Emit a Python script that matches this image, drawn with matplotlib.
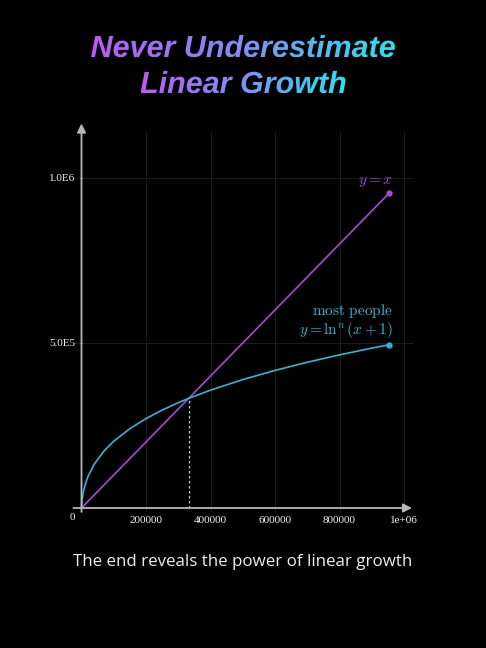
import numpy as np
import matplotlib
matplotlib.use("Agg")
import matplotlib.pyplot as plt
from matplotlib.textpath import TextPath
from matplotlib.font_manager import FontProperties
from matplotlib.patches import PathPatch
from matplotlib.colors import LinearSegmentedColormap
import matplotlib.transforms as mtransforms

# data
linear_x = [0, 955000]
linear_y = [0, 955000]

log_x = [0, 50, 200, 1000, 2000, 5000, 10000, 20000, 40000, 70000, 100000,
         150000, 200000, 250000, 300000, 332000, 400000, 500000, 600000,
         700000, 800000, 900000, 955000]
log_y = [0, 938, 4194, 15740, 25379, 44827, 66284, 95268, 133612, 172823, 202270,
         240488, 270951, 296640, 319035, 332075, 357115, 389120, 416880,
         441610, 463960, 484430, 494980]

cross_x = 332000
cross_y = 332000

xticks = [200000, 400000, 600000, 800000, 1000000]
xtick_labels = ["200000", "400000", "600000", "800000", "1e+06"]
yticks = [500000, 1000000]
ytick_labels = ["5.0E5", "1.0E6"]

title_lines = ["Never Underestimate", "Linear Growth"]
subtitle = "The end reveals the power of linear growth"

PURPLE = "#a848d8"
CYAN = "#2cb8d4"
W, H = 486, 648

plt.rcParams["mathtext.fontset"] = "cm"

fig = plt.figure(figsize=(W / 100, H / 100), dpi=100, facecolor="black")

# layout in pixels: x=0 at 81.5px, y=0 at 508px from top
x0px, y0px = 81.5, 508
sx, sy = 64.5 / 200000, 165 / 500000
xmin, xmax = -25000, 1030000
ymin, ymax = -12000, 1140000
left = (x0px + xmin * sx) / W
right = (x0px + xmax * sx) / W
bottom = 1 - (y0px - ymin * sy) / H
top = 1 - (y0px - ymax * sy) / H
ax = fig.add_axes([left, bottom, right - left, top - bottom])
ax.set_facecolor("black")
ax.set_xlim(xmin, xmax)
ax.set_ylim(ymin, ymax)
ax.spines["left"].set_position(("data", 0))
for s in ax.spines.values():
    s.set_visible(False)

ax.set_xticks(xticks)
ax.set_xticklabels(xtick_labels)
ax.set_yticks(yticks)
ax.set_yticklabels(ytick_labels)
for lab in ax.get_xticklabels() + ax.get_yticklabels():
    lab.set_fontfamily("Liberation Serif")
    lab.set_fontsize(8)
    lab.set_color("#f2f2f2")
ax.tick_params(axis="x", length=0, pad=3)
ax.tick_params(axis="y", length=1.5, width=1, color="#888888", pad=3)
ax.grid(True, color="#1c1c1c", lw=0.7)
ax.set_axisbelow(True)
ax.text(0, 0, "0", transform=ax.transData + mtransforms.ScaledTranslation(-9 / 100, -5 / 100, fig.dpi_scale_trans),
        ha="center", va="top", fontsize=8, family="Liberation Serif", color="#f2f2f2")

# axes with arrows
arrow_kw = dict(arrowstyle="-|>", color="#b8b8b8", lw=1.3, mutation_scale=13, shrinkA=0, shrinkB=0)
ax.annotate("", xy=(1.025e6, 0), xytext=(xmin, 0), arrowprops=arrow_kw, annotation_clip=False)
ax.annotate("", xy=(0, 1.165e6), xytext=(0, ymin), arrowprops=arrow_kw, annotation_clip=False)

# dashed marker at the crossing
ax.plot([cross_x, cross_x], [0, cross_y], ls=(0, (2, 2)), color="#cccccc", lw=0.9)

ax.plot(linear_x, linear_y, color=PURPLE, lw=1.2)
ax.plot(linear_x[-1], linear_y[-1], "o", color=PURPLE, ms=3.5)
ax.plot(log_x, log_y, color=CYAN, lw=1.2)
ax.plot(log_x[-1], log_y[-1], "o", color=CYAN, ms=3.5)

ax.text(966000, 988000, r"$y = x$", color=PURPLE, fontsize=11, ha="right", va="center")
ax.text(966000, 598000, r"$\mathrm{most\ people}$", color=CYAN, fontsize=11, ha="right", va="center")
ax.text(966000, 540000, r"$y = \ln^n(x+1)$", color=CYAN, fontsize=11, ha="right", va="center")

# overlay in pixel coordinates for title and caption
ov = fig.add_axes([0, 0, 1, 1])
ov.set_axis_off()
ov.patch.set_alpha(0)

cmap = LinearSegmentedColormap.from_list("title", ["#c058f8", "#7c90f4", "#1ee8f2"])
fp = FontProperties(family="Liberation Sans", weight="bold", style="italic")
for text, base in zip(title_lines, [57, 93]):
    tp = TextPath((0, 0), text, size=30.5, prop=fp)
    bb = tp.get_extents()
    dx = W / 2 - (bb.x0 + bb.x1) / 2
    dy = H - base
    path = mtransforms.Affine2D().translate(dx, dy).transform_path(tp)
    patch = PathPatch(path, facecolor="none", edgecolor="none")
    ov.add_patch(patch)
    pb = path.get_extents()
    im = ov.imshow(np.linspace(0, 1, 256).reshape(1, -1), cmap=cmap, aspect="auto",
                   extent=[pb.x0, pb.x1, pb.y0, pb.y1], interpolation="bilinear")
    im.set_clip_path(patch)

ov.text(W / 2, H - 562, subtitle, color="#eeeeee", fontsize=12.2, family="Open Sans",
        ha="center", va="center")
ov.set_xlim(0, W)
ov.set_ylim(0, H)

fig.savefig("out.png", dpi=100, facecolor="black")
